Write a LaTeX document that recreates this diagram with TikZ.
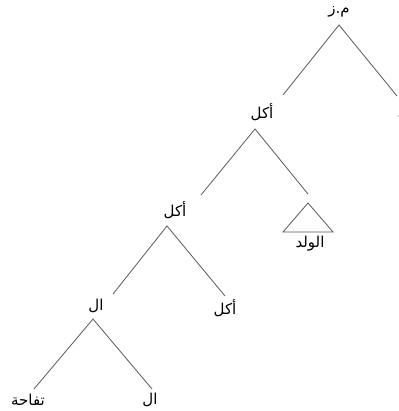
\documentclass[tikz,border=0pt]{standalone}
\usepackage{fontspec}
\newfontfamily\arabicfont[Script=Arabic]{DejaVu Sans}
\TeXXeTstate=1
\usetikzlibrary{positioning}

\begin{document}
\begin{tikzpicture}[x=1pt,y=-1pt,
    lbl/.style={font=\arabicfont\fontsize{15}{17}\selectfont,inner sep=0pt,text=black},
    br/.style={draw=black!65,line width=0.8pt}]
  \useasboundingbox (0,0) rectangle (398,411);
  % labels
  \node[lbl] (mz) at (339,12) {\beginR م.ز\endR};
  \node[lbl] (z) at (403,112) {\beginR ز\endR};
  \node[lbl] (akl1) at (262,112) {\beginR أكل\endR};
  \node[lbl] (akl2) at (175,210) {\beginR أكل\endR};
  \node[lbl] (walad) at (310,244) {\beginR الولد\endR};
  \node[lbl] (al1) at (96,306) {\beginR ال\endR};
  \node[lbl] (akl3) at (225,308) {\beginR أكل\endR};
  \node[lbl] (tuffaha) at (28,400) {\beginR تفاحة\endR};
  \node[lbl] (al2) at (150,400) {\beginR ال\endR};
  % branch points
  \coordinate (mz-a) at (339,25);
  \coordinate (mz-l) at (283,95);
  \coordinate (mz-r) at (397,96);
  \coordinate (akl1-a) at (255,129);
  \coordinate (akl1-l) at (201,195);
  \coordinate (akl1-r) at (308,194);
  \coordinate (walad-a) at (308,203);
  \coordinate (walad-l) at (283,232);
  \coordinate (walad-r) at (333,232);
  \coordinate (akl2-a) at (167,226);
  \coordinate (akl2-l) at (113,294);
  \coordinate (akl2-r) at (225,296);
  \coordinate (al1-a) at (93,319);
  \coordinate (al1-l) at (34,389);
  \coordinate (al1-r) at (152,389);
  % branches
  \draw[br] (mz-l) -- (mz-a) -- (mz-r);
  \draw[br] (akl1-l) -- (akl1-a) -- (akl1-r);
  \draw[br] (walad-a) -- (walad-l) -- (walad-r) -- cycle;
  \draw[br] (akl2-l) -- (akl2-a) -- (akl2-r);
  \draw[br] (al1-l) -- (al1-a) -- (al1-r);
\end{tikzpicture}
\end{document}
